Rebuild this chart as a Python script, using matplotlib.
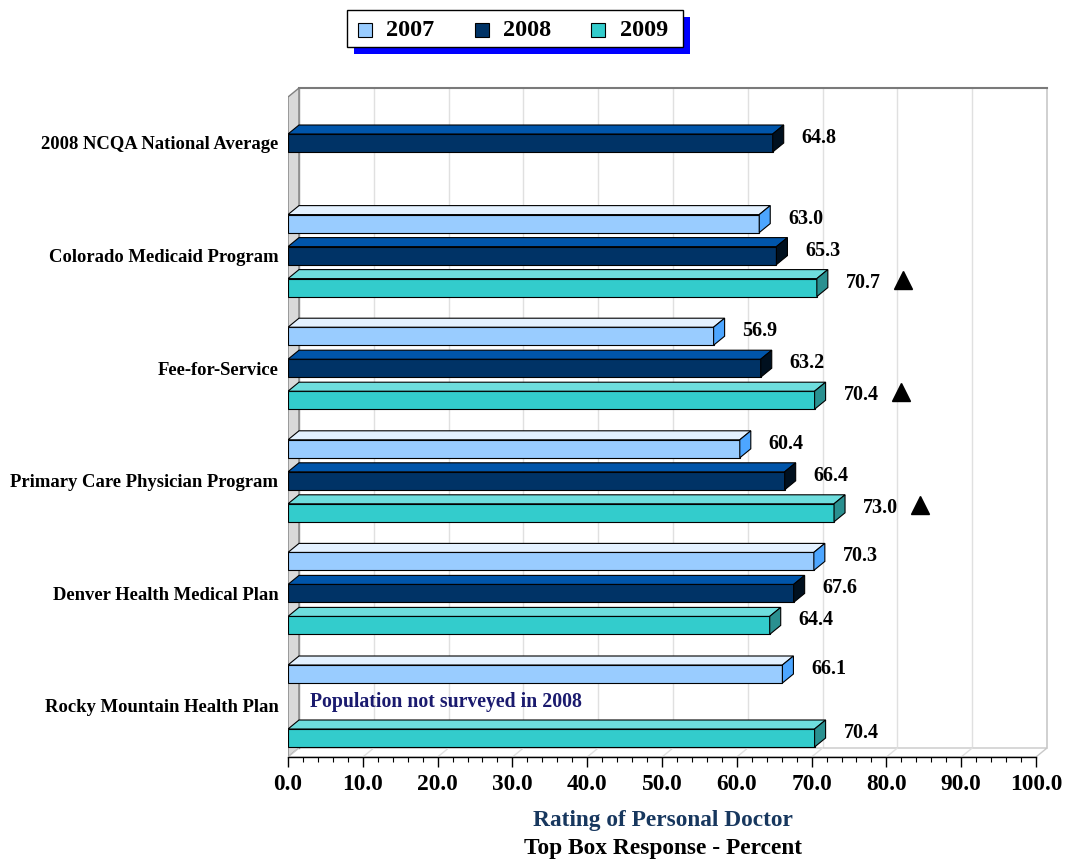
import numpy as np
import matplotlib
matplotlib.use("Agg")
import matplotlib.pyplot as plt
from matplotlib.patches import Polygon, Rectangle

# ---------------- data ----------------
categories = ["2008 NCQA National Average", "Colorado Medicaid Program",
              "Fee-for-Service", "Primary Care Physician Program",
              "Denver Health Medical Plan", "Rocky Mountain Health Plan"]
years = ["2007", "2008", "2009"]
v2007 = [np.nan, 63.0, 56.9, 60.4, 70.3, 66.1]
v2008 = [64.8, 65.3, 63.2, 66.4, 67.6, np.nan]
v2009 = [np.nan, 70.7, 70.4, 73.0, 64.4, 70.4]
sig_up_2009 = [False, True, True, True, False, False]
x_ticks = [0, 10, 20, 30, 40, 50, 60, 70, 80, 90, 100]

# ---------------- styling ----------------
FONT = "Liberation Serif"
plt.rcParams['font.family'] = [FONT, 'DejaVu Serif']
front_cols = ["#99CCFF", "#003366", "#33CCCC"]
top_cols = ["#E3F1FF", "#0055AA", "#6EDDDD"]
side_cols = ["#4DA6FF", "#00101F", "#2A9090"]

W, H = 1066, 863
fig = plt.figure(figsize=(W / 100, H / 100), dpi=100)

px_x = 7.48      # pixels per x unit
px_y = 112.6     # pixels per category unit
x0_px, x1_px = 288, 1047
ytop_px, ybot_px = 88, 757
c0_px = 143
ax = fig.add_axes([x0_px / W, (H - ybot_px) / H, (x1_px - x0_px) / W, (ybot_px - ytop_px) / H])
xmax = (x1_px - x0_px) / px_x
ylo = (ybot_px - c0_px) / px_y
yhi = (ytop_px - c0_px) / px_y
ax.set_xlim(0, xmax)
ax.set_ylim(ylo, yhi)

dx = 11 / px_x
dy = -9 / px_y
bar_h = 18 / px_y
off = 32 / px_y

# walls
ax.add_patch(Polygon([(0, yhi - dy), (dx, yhi), (dx, ylo + dy), (0, ylo)], closed=True,
                     facecolor="#D9D9D9", edgecolor="#808080", lw=1.0, zorder=1))
ax.add_patch(Polygon([(0, ylo), (100, ylo), (100 + dx, ylo + dy), (dx, ylo + dy)], closed=True,
                     facecolor="white", edgecolor="#C8C8C8", lw=1.0, zorder=1))
for t in x_ticks[1:-1]:
    ax.plot([t + dx, t + dx], [yhi, ylo + dy], color="#E0E0E0", lw=1.0, zorder=0.5)
    ax.plot([t, t + dx], [ylo, ylo + dy], color="#E0E0E0", lw=1.0, zorder=1.5)
ax.plot([100 + dx, 100 + dx], [yhi, ylo + dy], color="#C8C8C8", lw=1.2, zorder=1.5, clip_on=False)
ax.plot([dx, 100 + dx], [yhi, yhi], color="#7A7A7A", lw=1.5, zorder=1.6, clip_on=False)
ax.plot([dx, dx], [yhi, ylo + dy], color="#909090", lw=1.0, zorder=1.5)

# bars
series = [v2007, v2008, v2009]
ypos = np.arange(len(categories))
for s, vals in enumerate(series):
    yc = ypos + (s - 1) * off
    ax.barh(yc, vals, height=bar_h, color=front_cols[s], edgecolor="black", lw=0.8, zorder=3)
    for v, c in zip(vals, yc):
        if np.isnan(v):
            continue
        ytop = c - bar_h / 2
        ybot = c + bar_h / 2
        ax.add_patch(Polygon([(0, ytop), (v, ytop), (v + dx, ytop + dy), (dx, ytop + dy)], closed=True,
                             facecolor=top_cols[s], edgecolor="black", lw=0.8, zorder=3))
        ax.add_patch(Polygon([(v, ytop), (v + dx, ytop + dy), (v + dx, ybot + dy), (v, ybot)], closed=True,
                             facecolor=side_cols[s], edgecolor="black", lw=0.8, zorder=3))
        ax.text(v + 29 / px_x, c - 5 / px_y, f"{v:.1f}", fontsize=14.5, fontweight="bold",
                ha="left", va="center", zorder=5)

for i, flag in enumerate(sig_up_2009):
    if flag:
        c = ypos[i] + off
        ax.plot(v2009[i] + 86 / px_x, c - 8 / px_y, marker="^", markersize=13, color="black",
                zorder=5, clip_on=False)

ax.text(22 / px_x, ypos[5] - 4 / px_y, "Population not surveyed in 2008", color="#1A1A6E",
        fontsize=14.2, fontweight="bold", ha="left", va="center", zorder=5)

# axes styling
for sp in ["top", "right", "left"]:
    ax.spines[sp].set_visible(False)
ax.spines["bottom"].set_bounds(0, 100)
ax.spines["bottom"].set_linewidth(1.0)
ax.spines["bottom"].set_zorder(4)
ax.set_xticks(x_ticks)
ax.set_xticklabels([f"{t:.1f}" for t in x_ticks], fontsize=16.8, fontweight="bold")
ax.set_xticks(np.arange(0, 101, 2), minor=True)
ax.tick_params(axis="x", which="major", length=7, width=1.0, direction="out", pad=5)
ax.tick_params(axis="x", which="minor", length=3.5, width=0.8, direction="out")
ax.set_yticks(ypos)
ax.set_yticklabels(categories, fontsize=13.4, fontweight="bold")
ax.tick_params(axis="y", length=0, pad=7)

fig.text(663 / W, 1 - 820 / H, "Rating of Personal Doctor", color="#17375E", fontsize=16.8,
         fontweight="bold", ha="center", va="center")
fig.text(663 / W, 1 - 848 / H, "Top Box Response - Percent", color="black", fontsize=16.8,
         fontweight="bold", ha="center", va="center")

# legend (manual, pixel overlay)
ov = fig.add_axes([0, 0, 1, 1], facecolor="none")
ov.set_xlim(0, W)
ov.set_ylim(H, 0)
ov.axis("off")
ov.add_patch(Rectangle((354, 17), 336, 37, facecolor="#0000FF", edgecolor="none"))
ov.add_patch(Rectangle((347, 10), 336, 37, facecolor="white", edgecolor="black", lw=1.0))
for sq_x, tx, col, lab in zip([358, 475, 591], [386, 503, 620], front_cols, years):
    ov.add_patch(Rectangle((sq_x, 23), 14, 14, facecolor=col, edgecolor="black", lw=0.8))
    ov.text(tx, 31, lab, fontsize=17.5, fontweight="bold", ha="left", va="center")

fig.savefig("out.png", dpi=100)
